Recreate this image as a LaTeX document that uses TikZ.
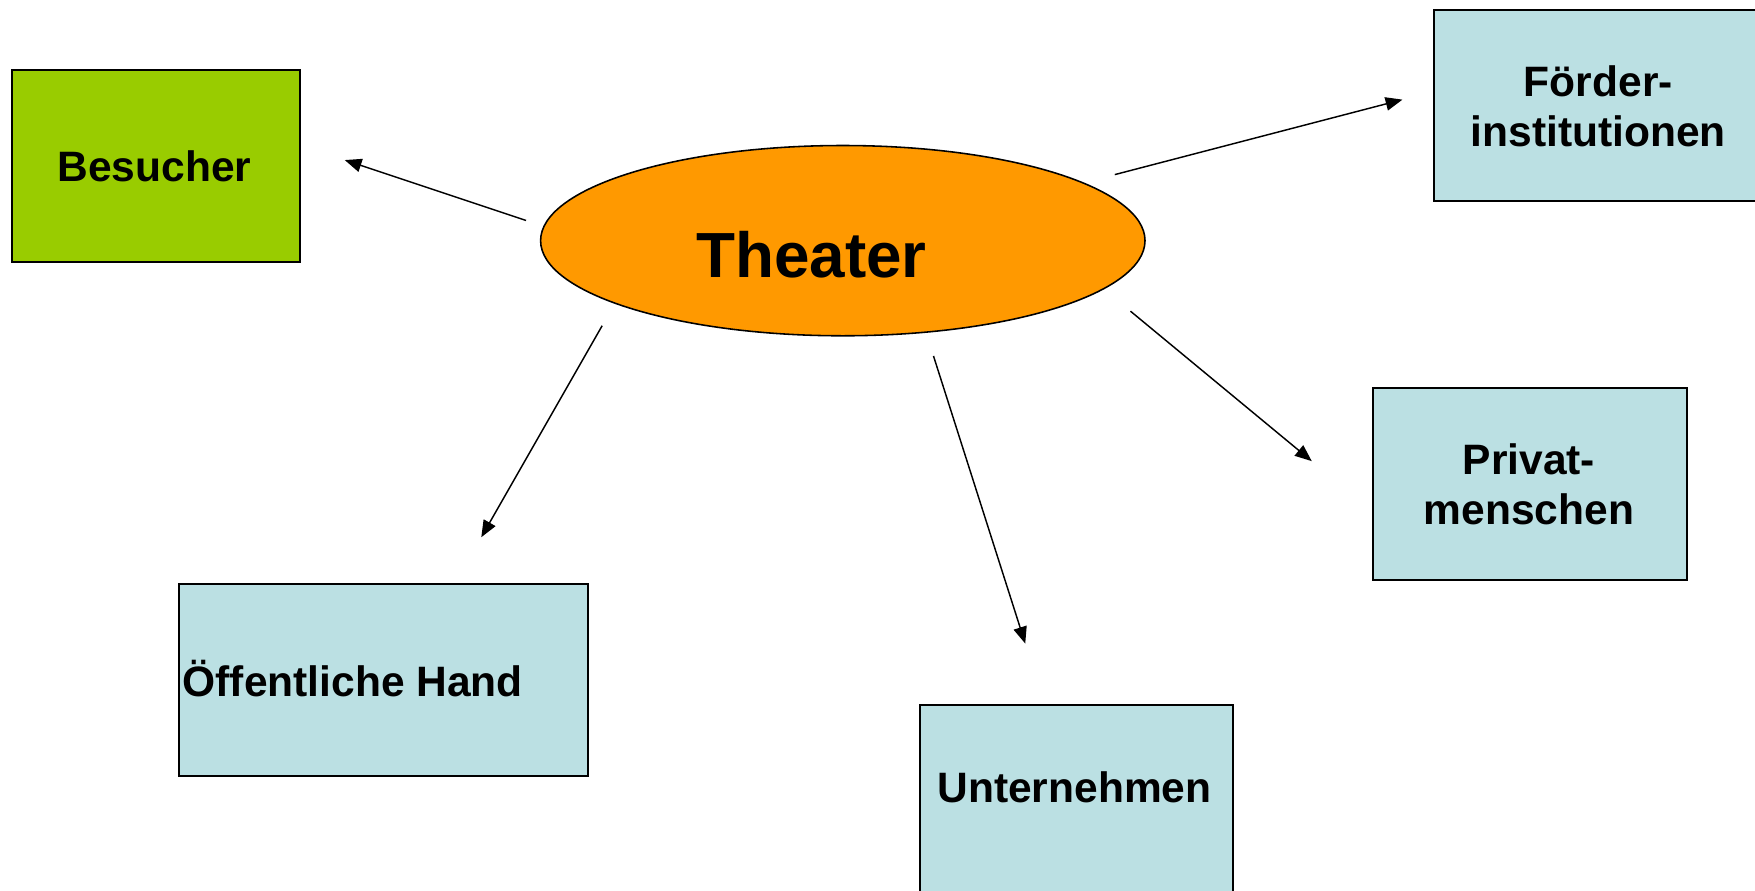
\documentclass[tikz,border=0pt]{standalone}
\usepackage{fontspec}
\setmainfont{Liberation Sans}
\usetikzlibrary{arrows.meta,shapes.geometric}
\definecolor{besgreen}{HTML}{99CC00}
\definecolor{boxblue}{HTML}{BBE0E3}
\definecolor{theaterorange}{HTML}{FF9900}
\begin{document}
\begin{tikzpicture}[x=1pt,y=-1pt,
  box/.style={draw=black, line width=1.8pt, rectangle, inner sep=0pt, anchor=north west, minimum height=171pt},
  lbl/.style={font=\bfseries\fontsize{38}{45}\selectfont, align=center, anchor=base, inner sep=0pt},
  conn/.style={line width=1.3pt, -{Triangle[length=15pt,width=12pt]}}]
\useasboundingbox (0,0) rectangle (1568,796);
\clip (0,0) rectangle (1568,796);
\fill[white] (0,0) rectangle (1568,796);
% boxes
\node[box, fill=besgreen, minimum width=257pt] (besucher) at (10,62) {};
\node[box, fill=boxblue, minimum width=296pt] (foerder) at (1280,8) {};
\node[box, fill=boxblue, minimum width=280pt] (privat) at (1226,346) {};
\node[box, fill=boxblue, minimum width=365pt] (oeff) at (159,521) {};
\node[box, fill=boxblue, minimum width=280pt] (untern) at (821,629) {};
\node[ellipse, draw=black, line width=1.4pt, fill=theaterorange, minimum width=540pt, minimum height=170pt, inner sep=0pt] (theater) at (753,215) {};
% labels
\node[lbl] (tBesucher) at (138,162) {Besucher};
\node[lbl, font=\bfseries\fontsize{57}{68}\selectfont] (tTheater) at (725,248) {Theater};
\node[lbl] (tFoerder) at (1428,131) {Förder-\\institutionen};
\node[lbl] (tPrivat) at (1366,469) {Privat-\\menschen};
\node[lbl, anchor=base west] (tOeff) at (163,622) {Öffentliche Hand};
\node[lbl] (tUntern) at (960,717) {Unternehmen};
% connector ends
\coordinate (bS) at (470,197); \coordinate (bE) at (308,143);
\coordinate (fS) at (996,156); \coordinate (fE) at (1253,89);
\coordinate (oS) at (538,291); \coordinate (oE) at (430,480);
\coordinate (uS) at (834,318); \coordinate (uE) at (916,575);
\coordinate (pS) at (1010,278); \coordinate (pE) at (1172,412);
\draw[conn] (bS) -- (bE);
\draw[conn] (fS) -- (fE);
\draw[conn] (oS) -- (oE);
\draw[conn] (uS) -- (uE);
\draw[conn] (pS) -- (pE);
\end{tikzpicture}
\end{document}
